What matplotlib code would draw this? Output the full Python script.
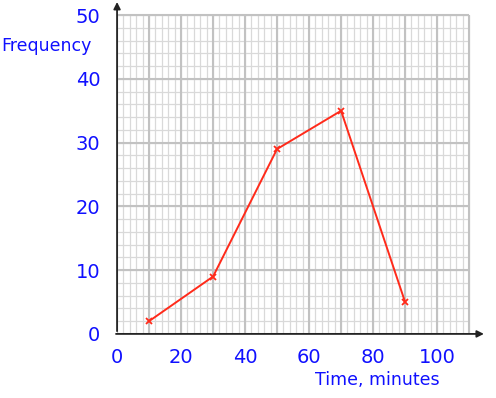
import numpy as np
import matplotlib.pyplot as plt

# frequency polygon data
time_mid = [10, 30, 50, 70, 90]
frequency = [2, 9, 29, 35, 5]
x_ticks = [0, 20, 40, 60, 80, 100]
y_ticks = [0, 10, 20, 30, 40, 50]

blue = '#1010ff'
red = '#ff2a1a'

fig = plt.figure(figsize=(4.96, 3.98), dpi=100)
ax = fig.add_axes([0.236, 0.161, 0.742, 0.833])
ax.set_xlim(0, 115)
ax.set_ylim(0, 52)

# graph paper grid
ax.vlines(np.arange(0, 111, 2), 0, 50, color='#d9d9d9', lw=0.9, zorder=1)
ax.hlines(np.arange(0, 51, 2), 0, 110, color='#d9d9d9', lw=0.9, zorder=1)
ax.vlines(np.arange(0, 111, 10), 0, 50, color='#c2c2c2', lw=1.5, zorder=2)
ax.hlines(np.arange(0, 51, 10), 0, 110, color='#c2c2c2', lw=1.5, zorder=2)

for s in ax.spines.values():
    s.set_visible(False)

# axes with arrows
arrow = dict(arrowstyle='-|>', color='#222222', lw=1.3, mutation_scale=10)
ax.annotate('', xy=(115.5, 0), xytext=(-1.2, 0), arrowprops=arrow, annotation_clip=False)
ax.annotate('', xy=(0, 52.5), xytext=(0, 0), arrowprops=arrow, annotation_clip=False)

ax.plot(time_mid, frequency, color=red, lw=1.4, marker='x', ms=5, mew=1.3, zorder=5)

ax.set_xticks(x_ticks)
ax.set_yticks(y_ticks)
ax.tick_params(length=0, labelcolor=blue, labelsize=14)
ax.tick_params(axis='x', pad=10)
ax.tick_params(axis='y', pad=12)

fig.text(0.002, 0.885, 'Frequency', color=blue, fontsize=12.5, ha='left', va='center')
fig.text(0.76, 0.045, 'Time, minutes', color=blue, fontsize=12.5, ha='center', va='center')

fig.savefig('out.png', dpi=100)
